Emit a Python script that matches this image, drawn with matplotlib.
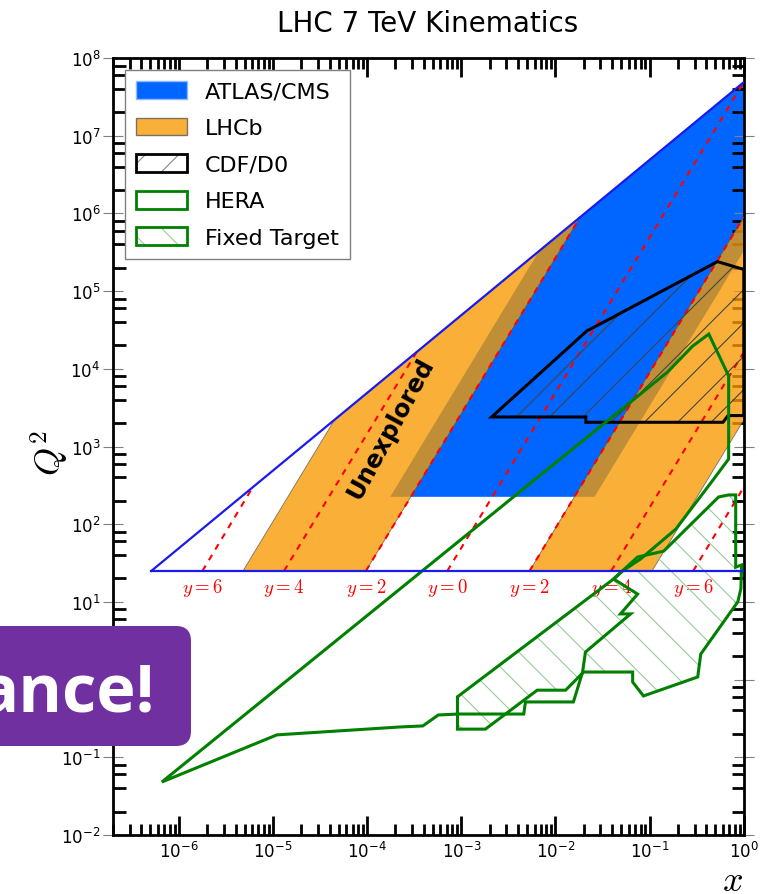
import numpy as np
import matplotlib
matplotlib.use("Agg")
import matplotlib.pyplot as plt
from matplotlib.patches import Polygon, Patch, FancyBboxPatch
from matplotlib.ticker import LogLocator, NullFormatter
from matplotlib.transforms import IdentityTransform

plt.rcParams["hatch.linewidth"] = 0.8

# kinematic limit and the Q2 = 25 GeV^2 floor
limit_x = [5.1e-7, 1.0]
limit_q2 = [25, 4.9e7]
floor_x = [5.1e-7, 1.0]
floor_q2 = [25, 25]

# ATLAS/CMS acceptance
atlas_x = [1.76e-4, 6.7e-3, 1.0, 1.0, 2.6e-2]
atlas_q2 = [225, 3.3e5, 4.9e7, 3.3e5, 225]

# LHCb acceptance, both sides
lhcb_left_x = [4.8e-6, 9.7e-5, 1.83e-2, 4.5e-5]
lhcb_left_q2 = [25, 25, 9.0e5, 2.2e3]
lhcb_right_x = [5.3e-3, 0.106, 1.0, 1.0]
lhcb_right_q2 = [25, 25, 2.2e3, 9.0e5]

# rapidity lines
rap_labels = ["6", "4", "2", "0", "2", "4", "6"]
rap_x0 = [1.78e-6, 1.31e-5, 9.7e-5, 7.1e-4, 5.3e-3, 3.9e-2, 0.29]
rap_x1 = [6.1e-6, 3.35e-4, 1.83e-2, 1.0, 1.0, 1.0, 1.0]
rap_q2_0 = [25, 25, 25, 25, 25, 25, 25]
rap_q2_1 = [300, 1.64e4, 9.0e5, 4.9e7, 9.0e5, 1.64e4, 300]

# CDF/D0
cdf_x = [2.1e-3, 2.1e-2, 2.1e-2, 0.60, 0.68, 1.0, 1.0, 0.525, 2.77e-2, 2.17e-2]
cdf_q2 = [2.4e3, 2.4e3, 2.05e3, 2.05e3, 2.5e3, 2.5e3, 1.9e5, 2.4e5, 3.6e4, 3.1e4]

# HERA
hera_x = [6.6e-7, 0.155, 0.286, 0.425, 0.69, 0.69, 0.48, 0.19, 0.080, 0.0516,
          0.0414, 0.0745, 0.049, 0.0628, 0.0208, 0.0194, 0.0155, 4.8e-3, 4.6e-3,
          9.3e-4, 5.7e-4, 3.9e-4, 2.2e-4, 1.1e-5]
hera_q2 = [0.048, 9.1e3, 1.96e4, 2.8e4, 8.1e3, 690, 382, 86.7, 35.6, 25,
           19.7, 12.6, 7.0, 7.0, 2.26, 1.25, 0.515, 0.515, 0.36,
           0.36, 0.35, 0.253, 0.245, 0.194]

# fixed target
ft_x = [9.1e-4, 9.1e-4, 1.8e-3, 6.4e-3, 1.28e-2, 1.99e-2, 0.066, 0.066, 0.086,
        0.324, 0.349, 0.863, 0.93, 0.95, 0.82, 0.82, 0.69, 0.54, 0.141, 0.0745, 0.0414]
ft_q2 = [0.60, 0.23, 0.23, 0.73, 0.73, 1.25, 1.25, 0.93, 0.615,
         1.08, 2.13, 10, 14.7, 29.9, 28, 238, 238, 224, 45, 37.8, 19.7]

blue = "#0066ff"
orange = "#f99a00"
green = "#008000"
hatch_green = "#98cc98"

fig = plt.figure(figsize=(7.74, 8.95), dpi=100)
ax = fig.add_axes([0.146, 0.066, 0.815, 0.868])
ax.set_xscale("log")
ax.set_yscale("log")

ax.add_patch(Polygon(np.column_stack([atlas_x, atlas_q2]), closed=True,
                     facecolor=blue, edgecolor="none", zorder=1))
for px, py in [(lhcb_left_x, lhcb_left_q2), (lhcb_right_x, lhcb_right_q2)]:
    ax.add_patch(Polygon(np.column_stack([px, py]), closed=True, facecolor=orange,
                         alpha=0.78, edgecolor="#555555", lw=0.6, zorder=2))

for x0, x1, q0, q1, lab in zip(rap_x0, rap_x1, rap_q2_0, rap_q2_1, rap_labels):
    ax.plot([x0, x1], [q0, q1], color="red", ls=(0, (3, 3)), lw=1.5, zorder=3)
    ax.text(x0, 15.5, r"$y=%s$" % lab, color="red", fontsize=13.5,
            ha="center", va="center", math_fontfamily="cm")

ax.plot(limit_x, limit_q2, color="#1a1aee", lw=1.6, zorder=5)
ax.plot(floor_x, floor_q2, color="#1a1aee", lw=1.6, zorder=5)

cdf_xy = np.column_stack([cdf_x, cdf_q2])
ax.add_patch(Polygon(cdf_xy, closed=True, fill=False, hatch="/", edgecolor="#444444",
                     lw=0, zorder=4))
ax.add_patch(Polygon(cdf_xy, closed=True, fill=False, edgecolor="black", lw=2.2, zorder=4))

ft_xy = np.column_stack([ft_x, ft_q2])
ax.add_patch(Polygon(ft_xy, closed=True, fill=False, hatch="\\", edgecolor=hatch_green,
                     lw=0, zorder=4))
ax.add_patch(Polygon(ft_xy, closed=True, fill=False, edgecolor=green, lw=2.2, zorder=4))

ax.add_patch(Polygon(np.column_stack([hera_x, hera_q2]), closed=True, fill=False,
                     edgecolor=green, lw=2.2, zorder=4))

ax.text(1.76e-4, 1780, "Unexplored", rotation=61.5, fontsize=17.5, fontweight="bold",
        ha="center", va="center", rotation_mode="anchor", zorder=6)

ax.set_xlim(2e-7, 1)
ax.set_ylim(1e-2, 1e8)
ax.xaxis.set_major_locator(LogLocator(base=10, numticks=20))
ax.yaxis.set_major_locator(LogLocator(base=10, numticks=20))
ax.xaxis.set_minor_locator(LogLocator(base=10, subs=np.arange(2, 10), numticks=20))
ax.yaxis.set_minor_locator(LogLocator(base=10, subs=(2, 4, 6, 8), numticks=20))
ax.xaxis.set_minor_formatter(NullFormatter())
ax.yaxis.set_minor_formatter(NullFormatter())
ax.tick_params(which="both", direction="in", top=True, right=True, labelsize=12)
ax.tick_params(axis="x", which="major", length=14, width=2, pad=4)
ax.tick_params(axis="x", which="minor", length=8, width=2)
ax.tick_params(axis="y", which="major", direction="inout", length=14, width=0.8,
               color="gray", pad=2)
ax.tick_params(axis="y", which="minor", length=9, width=2)
for sp in ax.spines.values():
    sp.set_linewidth(2)

handles = [
    Patch(facecolor=blue, edgecolor="#8fb8ff"),
    Patch(facecolor=orange, alpha=0.78, edgecolor="#555555"),
    (Patch(facecolor="none", edgecolor="#888888", hatch="/", lw=0),
     Patch(facecolor="none", edgecolor="black", lw=2)),
    Patch(facecolor="none", edgecolor=green, lw=2),
    (Patch(facecolor="none", edgecolor=hatch_green, hatch="\\", lw=0),
     Patch(facecolor="none", edgecolor=green, lw=2)),
]
labels = ["ATLAS/CMS", "LHCb", "CDF/D0", "HERA", "Fixed Target"]
leg = ax.legend(handles, labels, loc="upper left", bbox_to_anchor=(125 / 774, 1 - 71 / 895),
                bbox_transform=fig.transFigure, borderaxespad=0, fontsize=16,
                handlelength=2.3, handleheight=0.85, labelspacing=0.72,
                borderpad=0.5, fancybox=False, framealpha=1, edgecolor="gray")
leg.get_frame().set_linewidth(1)
leg.set_zorder(10)

fig.text(428 / 774, 1 - 24 / 895, "LHC 7 TeV Kinematics", fontsize=20,
         ha="center", va="center")
fig.text(50 / 774, 1 - 453 / 895, "$Q^2$", fontsize=26, rotation=90,
         ha="center", va="center", math_fontfamily="cm")
fig.text(733 / 774, 1 - 881 / 895, "$x$", fontsize=26,
         ha="center", va="center", math_fontfamily="cm")

# purple banner on top
fig.add_artist(FancyBboxPatch((-40, 148), 231, 120, boxstyle="round,pad=0,rounding_size=15",
                              transform=IdentityTransform(), facecolor="#7030a0",
                              edgecolor="none", zorder=20))
fig.text(155 / 774, 1 - 712 / 895, "ance!", color="white", fontsize=48,
         fontweight="bold", family=["Open Sans", "DejaVu Sans"], ha="right",
         va="baseline", zorder=21)

fig.savefig("out.png", dpi=100)
